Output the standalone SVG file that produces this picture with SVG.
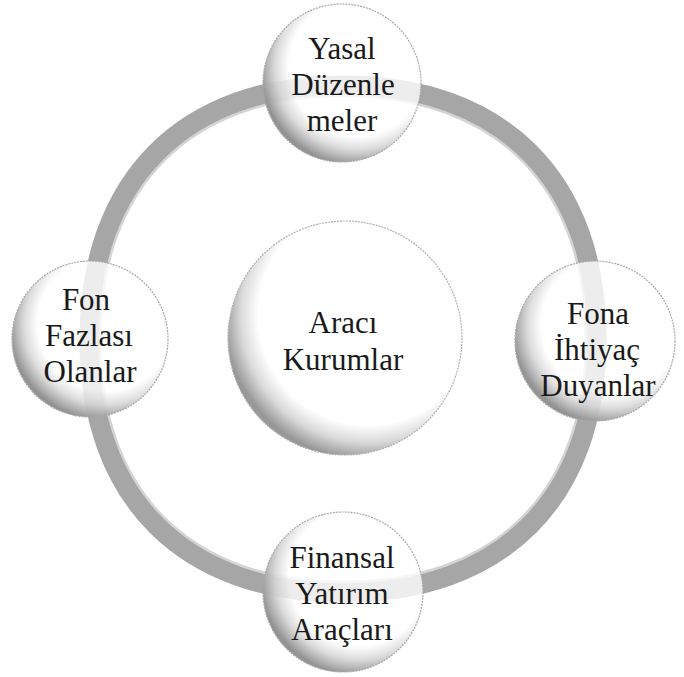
<svg xmlns="http://www.w3.org/2000/svg" width="684" height="677" viewBox="0 0 684 677">
<style>
.lbl{font-family:"Liberation Serif","DejaVu Serif",serif;font-size:31px;fill:#1a1a1a;text-anchor:middle}
.node{fill:url(#sphere);stroke:#a8a8a8;stroke-width:1.2;stroke-dasharray:2 1}
</style>
<defs>
<radialGradient id="sphere" cx="0.6" cy="0.4" r="0.62" gradientUnits="objectBoundingBox">
<stop offset="0" stop-color="#ffffff" stop-opacity="0.8"/>
<stop offset="0.7" stop-color="#ffffff" stop-opacity="0.8"/>
<stop offset="0.84" stop-color="#d8d8d8" stop-opacity="0.9"/>
<stop offset="1" stop-color="#939393" stop-opacity="1"/>
</radialGradient>
<radialGradient id="sphereC" cx="0.6" cy="0.4" r="0.62" gradientUnits="objectBoundingBox">
<stop offset="0" stop-color="#ffffff"/>
<stop offset="0.76" stop-color="#ffffff"/>
<stop offset="0.88" stop-color="#dadada"/>
<stop offset="1" stop-color="#989898"/>
</radialGradient>
</defs>
<rect width="684" height="677" fill="#ffffff"/>
<g id="connectors">
<path d="M 596 339 C 596 497.9 501.9 592 343 592 C 184.1 592 90 497.9 90 339 C 90 180.1 184.1 86 343 86 C 501.9 86 596 180.1 596 339 Z" fill="none" stroke="#a6a6a6" stroke-width="21"/>
<path d="M 586 339 C 586 491.6 495.6 582 343 582 C 190.4 582 100 491.6 100 339 C 100 186.4 190.4 96 343 96 C 495.6 96 586 186.4 586 339 Z" fill="none" stroke="#d4d4d4" stroke-width="2.5"/>
</g>
<g id="node-center">
<circle cx="345" cy="338" r="117" fill="url(#sphereC)" stroke="#b0b0b0" stroke-width="1.2" stroke-dasharray="2 1"/>
<text class="lbl" x="343" y="333">Aracı</text>
<text class="lbl" x="343" y="370">Kurumlar</text>
</g>
<g id="node-top">
<circle class="node" cx="342" cy="83" r="79"/>
<text class="lbl" x="342" y="59">Yasal</text>
<text class="lbl" x="343" y="95">Düzenle</text>
<text class="lbl" x="342" y="131">meler</text>
</g>
<g id="node-left">
<circle class="node" cx="90" cy="339" r="78"/>
<text class="lbl" x="86" y="310">Fon</text>
<text class="lbl" x="89" y="346">Fazlası</text>
<text class="lbl" x="90" y="382">Olanlar</text>
</g>
<g id="node-right">
<circle class="node" cx="595" cy="341" r="80"/>
<text class="lbl" x="598" y="324">Fona</text>
<text class="lbl" x="597" y="360">İhtiyaç</text>
<text class="lbl" x="598" y="396">Duyanlar</text>
</g>
<g id="node-bottom">
<circle class="node" cx="343" cy="592" r="80"/>
<text class="lbl" x="342" y="568">Finansal</text>
<text class="lbl" x="342" y="604">Yatırım</text>
<text class="lbl" x="342" y="640">Araçları</text>
</g>
</svg>
